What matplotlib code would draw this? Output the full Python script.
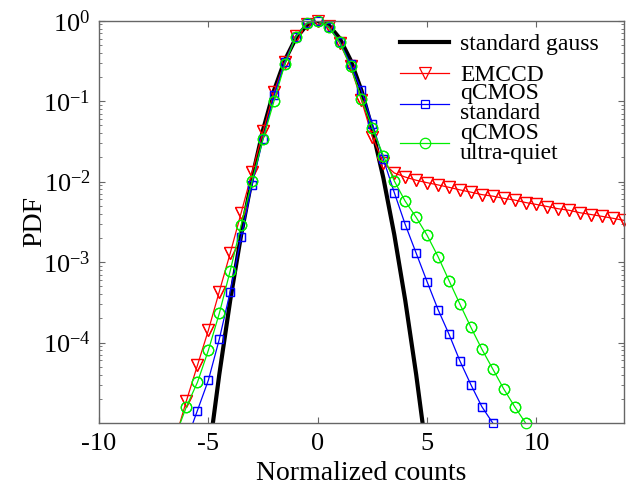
import numpy as np
import matplotlib
matplotlib.use("Agg")
from matplotlib import pyplot as plt
from matplotlib.ticker import LogLocator, NullFormatter

plt.rcParams['font.family'] = ['Liberation Serif', 'DejaVu Serif']
plt.rcParams['mathtext.fontset'] = 'custom'
plt.rcParams['mathtext.rm'] = 'Liberation Serif'
plt.rcParams['mathtext.it'] = 'Liberation Serif:italic'
plt.rcParams['axes.unicode_minus'] = False

# theoretical gaussian (peak normalised to 1)
x_gauss = [-5.0, -4.5, -4.0, -3.5, -3.0, -2.5, -2.0, -1.5, -1.0, -0.5, 0.0,
           0.5, 1.0, 1.5, 2.0, 2.5, 3.0, 3.5, 4.0, 4.5, 5.0]
pdf_gauss = [3.73e-6, 4.01e-5, 3.35e-4, 2.19e-3, 1.11e-2, 4.39e-2, 0.1353, 0.3247, 0.6065, 0.8825, 1.0,
             0.8825, 0.6065, 0.3247, 0.1353, 4.39e-2, 1.11e-2, 2.19e-3, 3.35e-4, 4.01e-5, 3.73e-6]

# EMCCD
x_emccd = [-6.5, -6.0, -5.5, -5.0, -4.5, -4.0, -3.5, -3.0, -2.5, -2.0, -1.5, -1.0, -0.5, 0.0,
           0.5, 1.0, 1.5, 2.0, 2.5, 3.0, 3.5, 4.0, 4.5, 5.0, 5.5, 6.0, 6.5, 7.0, 7.5, 8.0,
           8.5, 9.0, 9.5, 10.0, 10.5, 11.0, 11.5, 12.0, 12.5, 13.0, 13.5, 14.0]
pdf_emccd = [6.5e-6, 1.9e-5, 5.2e-5, 1.42e-4, 4.3e-4, 1.29e-3, 4.1e-3, 1.31e-2, 4.2e-2, 0.13, 0.31, 0.64, 0.91, 1.0,
             0.85, 0.53, 0.27, 0.102, 0.036, 0.017, 0.0128, 0.0114, 0.0104, 0.0097, 0.0091, 0.0085, 0.0079, 0.0074, 0.0069, 0.0066,
             0.0062, 0.0059, 0.0055, 0.0052, 0.0049, 0.0046, 0.0044, 0.0041, 0.0039, 0.0037, 0.0035, 0.0033]

# qCMOS standard scan
x_std = [-6.0, -5.5, -5.0, -4.5, -4.0, -3.5, -3.0, -2.5, -2.0, -1.5, -1.0, -0.5, 0.0,
         0.5, 1.0, 1.5, 2.0, 2.5, 3.0, 3.5, 4.0, 4.5, 5.0, 5.5, 6.0, 6.5, 7.0, 7.5, 8.0]
pdf_std = [6e-6, 1.43e-5, 3.4e-5, 1.1e-4, 4.3e-4, 2.04e-3, 9.2e-3, 0.034, 0.118, 0.31, 0.63, 0.93, 1.0,
           0.84, 0.55, 0.29, 0.136, 0.052, 0.019, 0.0073, 0.00293, 0.00129, 5.7e-4, 2.57e-4, 1.27e-4, 5.9e-5, 3.0e-5, 1.6e-5, 1.0e-5]

# qCMOS ultra-quiet scan
x_uq = [-6.5, -6.0, -5.5, -5.0, -4.5, -4.0, -3.5, -3.0, -2.5, -2.0, -1.5, -1.0, -0.5, 0.0,
        0.5, 1.0, 1.5, 2.0, 2.5, 3.0, 3.5, 4.0, 4.5, 5.0, 5.5, 6.0, 6.5, 7.0, 7.5, 8.0, 8.5, 9.0, 9.5]
pdf_uq = [7e-6, 1.6e-5, 3.2e-5, 8.0e-5, 2.3e-4, 7.8e-4, 2.9e-3, 0.0102, 0.034, 0.10, 0.29, 0.63, 0.93, 1.0,
          0.83, 0.54, 0.27, 0.107, 0.046, 0.021, 0.0102, 0.0057, 0.0036, 0.00215, 0.00117, 5.9e-4, 3.0e-4, 1.55e-4, 8.3e-5,
          4.7e-5, 2.66e-5, 1.6e-5, 1.0e-5]

XMIN, XMAX = -10, 14
YMIN, YMAX = 1e-5, 1


def plot_series(ax, x, y, color, marker, ms, label):
    line, = ax.plot(x, y, color=color, lw=0.9, marker=marker, ms=ms, mfc='none',
                    mec=color, mew=0.9, label=label)
    # markers sitting on the axes edge are drawn whole, like the original
    x = np.array(x)
    y = np.array(y)
    keep = (y >= YMIN * 0.99) & (x <= XMAX)
    ax.plot(x[keep], y[keep], ls='none', marker=marker, ms=ms, mfc='none',
            mec=color, mew=0.9, clip_on=False)
    return line


fig = plt.figure(figsize=(6.26, 4.86), dpi=100)
ax = fig.add_axes([0.1581, 0.1296, 0.8387, 0.8278])

g, = ax.plot(x_gauss, pdf_gauss, color='black', lw=3, label='standard gauss')
e = plot_series(ax, x_emccd, pdf_emccd, 'red', 'v', 8, 'EMCCD')
s = plot_series(ax, x_std, pdf_std, 'blue', 's', 6, 'qCMOS\nstandard')
u = plot_series(ax, x_uq, pdf_uq, '#00ee00', 'o', 7.5, 'qCMOS\nultra-quiet')

ax.set_yscale('log')
ax.set_xlim(XMIN, XMAX)
ax.set_ylim(YMIN, YMAX)
ax.set_xticks([-10, -5, 0, 5, 10])
ax.set_yticks([1e-4, 1e-3, 1e-2, 1e-1, 1])
ax.yaxis.set_minor_locator(LogLocator(base=10, subs=np.arange(2, 10)))
ax.yaxis.set_minor_formatter(NullFormatter())

for sp in ax.spines.values():
    sp.set_color('0.4')
    sp.set_linewidth(1.0)
ax.tick_params(which='both', direction='in', top=True, right=True, color='0.4',
               labelsize=19, pad=6)
ax.tick_params(axis='x', pad=7.5)
ax.tick_params(which='major', length=4)
ax.tick_params(which='minor', length=2.5)

ax.set_xlabel('Normalized counts', fontsize=20, labelpad=4)
ax.set_ylabel('PDF', fontsize=20, labelpad=-3)

# two legend blocks so single- and two-line entries keep the original pitch
leg_kw = dict(loc='upper left', frameon=False, fontsize=17, borderpad=0,
              borderaxespad=0, handlelength=2.1, handletextpad=0.45)
leg1 = ax.legend(handles=[g, e], bbox_to_anchor=(0.573, 0.9675),
                 labelspacing=0.38, **leg_kw)
ax.add_artist(leg1)
leg2 = ax.legend(handles=[s, u], bbox_to_anchor=(0.573, 0.8445),
                 labelspacing=-0.08, **leg_kw)
for t in leg2.get_texts():
    t.set_linespacing(0.95)

fig.savefig('out.png', dpi=100)
